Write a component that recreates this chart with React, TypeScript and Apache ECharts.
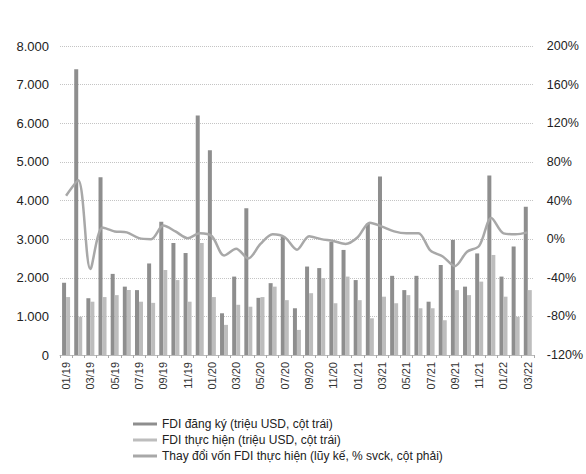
import React, { useEffect, useRef } from "react";
import * as echarts from "echarts";

const categories = [
  "01/19","02/19","03/19","04/19","05/19","06/19","07/19","08/19","09/19","10/19","11/19","12/19",
  "01/20","02/20","03/20","04/20","05/20","06/20","07/20","08/20","09/20","10/20","11/20","12/20",
  "01/21","02/21","03/21","04/21","05/21","06/21","07/21","08/21","09/21","10/21","11/21","12/21",
  "01/22","02/22","03/22",
];

const registered = [
  1870, 7400, 1470, 4600, 2100, 1770, 1680, 2370, 3450, 2900, 2640, 6200,
  5300, 1080, 2030, 3800, 1480, 1860, 3060, 1210, 2290, 2250, 2930, 2720,
  1940, 3400, 4620, 2050, 1680, 2050, 1380, 2330, 2980, 1770, 2630, 4650,
  2030, 2810, 3840,
];

const implemented = [
  1500, 990, 1380, 1500, 1550, 1680, 1380, 1350, 2200, 1940, 1380, 2900,
  1500, 780, 1300, 1250, 1500, 1770, 1420, 650, 1600, 1990, 1340, 2030,
  1420, 950, 1510, 1340, 1550, 1210, 1210, 900, 1680, 1550, 1900, 2590,
  1510, 990, 1680,
];

const change = [
  45, 61, -31, 12, 8, 7, 1, 0, 14, 8, 1, 6,
  3, -17, -10, -20, -5, 5, 2, -11, 3, 0, -2, -5,
  2, 17, 13, 8, 6, 6, -12, -18, -28, -13, -7, 22,
  6, 5, 7,
];

const leftTicks = { min: 0, max: 8000, interval: 1000 };
const rightTicks = { min: -120, max: 200, interval: 40 };

const names = [
  "FDI đăng ký (triệu USD, cột trái)",
  "FDI thực hiện (triệu USD, cột trái)",
  "Thay đổi vốn FDI thực hiện (lũy kế, % svck, cột phải)",
];

export default function App() {
  const ref = useRef<HTMLDivElement>(null);
  useEffect(() => {
    if (!ref.current) return;
    const chart = echarts.init(ref.current, null, { renderer: "svg" });
    const font = "Liberation Sans, Arial, sans-serif";
    chart.setOption({
      animation: false,
      backgroundColor: "#ffffff",
      textStyle: { fontFamily: font },
      grid: { left: 60, right: 51, top: 46, bottom: 119 },
      legend: {
        orient: "vertical",
        left: 133,
        top: 418,
        height: 56,
        itemWidth: 24,
        itemHeight: 3,
        itemGap: 4,
        padding: 0,
        textStyle: { fontSize: 12, color: "#222", fontFamily: font },
        data: [
          { name: names[0], icon: "rect" },
          { name: names[1], icon: "rect" },
          { name: names[2], icon: "rect" },
        ],
      },
      xAxis: {
        type: "category",
        data: categories,
        axisLine: { show: true, lineStyle: { color: "#bbbbbb" } },
        axisTick: { show: true, interval: 0, length: 3, lineStyle: { color: "#aaaaaa" } },
        axisLabel: {
          interval: 1,
          rotate: 90,
          fontSize: 11,
          color: "#333",
          margin: 7,
          fontFamily: font,
        },
      },
      yAxis: [
        {
          type: "value",
          min: leftTicks.min,
          max: leftTicks.max,
          interval: leftTicks.interval,
          axisLine: { show: false },
          axisTick: { show: false },
          splitLine: { show: true, lineStyle: { color: "#c4c4c4", type: "dotted" } },
          axisLabel: {
            fontSize: 13,
            color: "#222",
            margin: 11,
            fontFamily: font,
            formatter: (v: number) => v.toLocaleString("de-DE"),
          },
        },
        {
          type: "value",
          min: rightTicks.min,
          max: rightTicks.max,
          interval: rightTicks.interval,
          axisLine: { show: false },
          axisTick: { show: false },
          splitLine: { show: false },
          axisLabel: {
            fontSize: 12.5,
            color: "#222",
            margin: 13,
            fontFamily: font,
            formatter: (v: number) => v + "%",
          },
        },
      ],
      series: [
        {
          name: names[0],
          type: "bar",
          data: registered,
          barWidth: 4,
          barGap: "0%",
          itemStyle: { color: "#8e8e8e" },
        },
        {
          name: names[1],
          type: "bar",
          data: implemented,
          barWidth: 4,
          barGap: "0%",
          itemStyle: { color: "#bdbdbd" },
        },
        {
          name: names[2],
          type: "line",
          yAxisIndex: 1,
          data: change,
          smooth: 0.3,
          symbol: "none",
          lineStyle: { color: "#a8a8a8", width: 2.5 },
          itemStyle: { color: "#a8a8a8" },
          z: 5,
        },
      ],
    });
    return () => chart.dispose();
  }, []);
  return (
    <div
      ref={ref}
      style={{ position: "absolute", left: 0, top: 0, width: 586, height: 474 }}
    />
  );
}
